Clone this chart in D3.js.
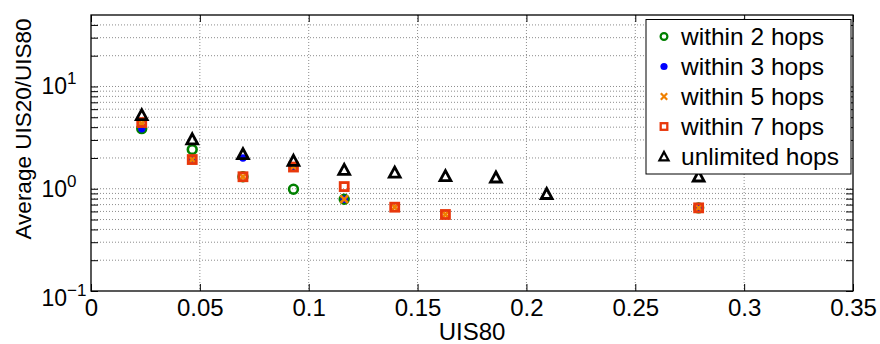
<!DOCTYPE html>
<html><head><meta charset="utf-8">
<script src="https://cdn.jsdelivr.net/npm/d3@7"></script>
<style>
html,body{margin:0;padding:0;background:#fff;}
svg{display:block;font-family:"Liberation Sans",Arial,Helvetica,sans-serif;}
</style></head>
<body>
<svg id="chart" width="880" height="344"></svg>
<script>
// ---- data ----
const uis80 = [0.0233, 0.0465, 0.0698, 0.0930, 0.1163, 0.1395, 0.1628, 0.1860, 0.2093, 0.2791];
const within2 = [3.87, 2.42, 1.31, 0.99, 0.79, null, null, null, null, 0.65];
const within3 = [3.85, 1.95, 2.00, 1.62, 0.79, null, null, null, null, 0.65];
const within5 = [4.35, 1.93, 1.31, 1.65, 0.79, 0.66, 0.56, null, null, 0.65];
const within7 = [4.44, 1.93, 1.31, 1.63, 1.05, 0.66, 0.56, null, null, 0.65];
const unlimited = [5.25, 3.05, 2.18, 1.88, 1.53, 1.44, 1.33, 1.29, 0.89, 1.32];
const seriesNames = ["within 2 hops", "within 3 hops", "within 5 hops", "within 7 hops", "unlimited hops"];
const xTicks = [0, 0.05, 0.1, 0.15, 0.2, 0.25, 0.3, 0.35];
const xTickLabels = ["0", "0.05", "0.1", "0.15", "0.2", "0.25", "0.3", "0.35"];
const yMajor = [0.1, 1, 10];
const yMajorExp = ["\u22121", "0", "1"];
const yMinor = [0.2,0.3,0.4,0.5,0.6,0.7,0.8,0.9,2,3,4,5,6,7,8,9,20,30,40];
const xLabel = "UIS80";
const yLabel = "Average UIS20/UIS80";

const svg = d3.select("#chart");
const L = 91, R = 853, T = 15, B = 291;
const x = d3.scaleLinear().domain([0, 0.35]).range([L, R]);
const y = d3.scaleLog().domain([0.1, 50]).range([B, T]);

// grid
const grid = svg.append("g");
grid.selectAll("line.h").data(yMinor.concat(yMajor.slice(1))).join("line")
  .attr("x1", L).attr("x2", R).attr("y1", d => y(d)).attr("y2", d => y(d))
  .attr("stroke", "#8c8c8c").attr("stroke-width", 1).attr("stroke-dasharray", "1,2");
grid.selectAll("line.v").data(xTicks.slice(1, -1)).join("line")
  .attr("y1", T).attr("y2", B).attr("x1", d => x(d)).attr("x2", d => x(d))
  .attr("stroke", "#8c8c8c").attr("stroke-width", 1).attr("stroke-dasharray", "1,2");

// axes
const tk = 7;
const gx = svg.append("g").attr("transform", `translate(0,${B})`)
  .call(d3.axisBottom(x).tickValues(xTicks).tickFormat((d,i) => xTickLabels[i]).tickSizeInner(-tk).tickSizeOuter(0).tickPadding(8));
const gxt = svg.append("g").attr("transform", `translate(0,${T})`)
  .call(d3.axisTop(x).tickValues(xTicks).tickFormat("").tickSizeInner(-tk).tickSizeOuter(0));
const gy = svg.append("g").attr("transform", `translate(${L},0)`)
  .call(d3.axisLeft(y).tickValues(yMajor).tickFormat("").tickSizeInner(-tk).tickSizeOuter(0));
const gym = svg.append("g").attr("transform", `translate(${L},0)`)
  .call(d3.axisLeft(y).tickValues(yMinor).tickFormat("").tickSizeInner(-tk).tickSizeOuter(0));
const gyr = svg.append("g").attr("transform", `translate(${R},0)`)
  .call(d3.axisRight(y).tickValues(yMajor.concat(yMinor)).tickFormat("").tickSizeInner(-tk).tickSizeOuter(0));
[gx, gxt, gy, gym, gyr].forEach(g => {
  g.select(".domain").remove();
  g.selectAll(".tick line").attr("stroke", "#000").attr("stroke-width", 1);
});
gx.selectAll(".tick text").attr("font-size", 24).attr("fill", "#000");
svg.append("rect").attr("x", L).attr("y", T).attr("width", R - L).attr("height", B - T)
  .attr("fill", "none").attr("stroke", "#000").attr("stroke-width", 1.3);

// y tick labels with superscripts
const yl = svg.append("g");
yMajor.forEach((v, i) => {
  const yy = y(v) + (i === 0 ? 7 : 0);
  yl.append("text").attr("x", L - 24).attr("y", yy + 8).attr("text-anchor", "end")
    .attr("font-size", 23).text("10");
  yl.append("text").attr("x", L - 24).attr("y", yy - 2).attr("font-size", 17).text(yMajorExp[i]);
});

// axis labels
svg.append("text").attr("x", (L + R) / 2).attr("y", 340).attr("text-anchor", "middle")
  .attr("font-size", 24).text(xLabel);
svg.append("text").attr("transform", `translate(31,129) rotate(-90)`).attr("text-anchor", "middle")
  .attr("font-size", 22.5).text(yLabel);

// markers
const green = "#008000", blue = "#0000ff", orange = "#f08000", red = "#e8380c";
function drawCircle(g, cx, cy, r, w) {
  g.append("circle").attr("cx", cx).attr("cy", cy).attr("r", r)
    .attr("fill", "none").attr("stroke", green).attr("stroke-width", w);
}
function drawDot(g, cx, cy, r) {
  g.append("circle").attr("cx", cx).attr("cy", cy).attr("r", r).attr("fill", blue);
}
function drawX(g, cx, cy, s, w) {
  g.append("path").attr("d", `M${cx-s},${cy-s}L${cx+s},${cy+s}M${cx-s},${cy+s}L${cx+s},${cy-s}`)
    .attr("stroke", orange).attr("stroke-width", w).attr("fill", "none");
}
function drawSq(g, cx, cy, s, w) {
  g.append("rect").attr("x", cx - s).attr("y", cy - s).attr("width", 2*s).attr("height", 2*s)
    .attr("fill", "none").attr("stroke", red).attr("stroke-width", w);
}
function drawTri(g, cx, cy, s, w) {
  g.append("path").attr("d", `M${cx},${cy-s}L${cx+s},${cy+s*0.85}L${cx-s},${cy+s*0.85}Z`)
    .attr("fill", "none").attr("stroke", "#000").attr("stroke-width", w).attr("stroke-linejoin", "miter");
}
const series = [
  {vals: within2, draw: (g,a,b) => drawCircle(g,a,b,4.4,2.6), leg: (g,a,b) => drawCircle(g,a,b,3.4,2.2)},
  {vals: within3, draw: (g,a,b) => drawDot(g,a,b,3.7), leg: (g,a,b) => drawDot(g,a,b,3.6)},
  {vals: within5, draw: (g,a,b) => drawX(g,a,b,3.8,2.6), leg: (g,a,b) => drawX(g,a,b,3.2,2.2)},
  {vals: within7, draw: (g,a,b) => drawSq(g,a,b,4,2.8), leg: (g,a,b) => drawSq(g,a,b,3.3,2.3)},
  {vals: unlimited, draw: (g,a,b) => drawTri(g,a,b,5.4,2.8), leg: (g,a,b) => drawTri(g,a,b,4.5,2.3)}
];
const pts = svg.append("g");
series.forEach(s => {
  s.vals.forEach((v, i) => { if (v != null) s.draw(pts, x(uis80[i]), y(v)); });
});

// legend
const lg = svg.append("g");
lg.append("rect").attr("x", 646).attr("y", 19.5).attr("width", 205).attr("height", 154.5)
  .attr("fill", "#fff").attr("stroke", "#000").attr("stroke-width", 1);
series.forEach((s, i) => {
  const cy = 36.5 + i * 30;
  s.leg(lg, 664, cy);
  lg.append("text").attr("x", 681).attr("y", cy + 8.5).attr("font-size", 24.5).text(seriesNames[i]);
});
</script>
</body></html>
